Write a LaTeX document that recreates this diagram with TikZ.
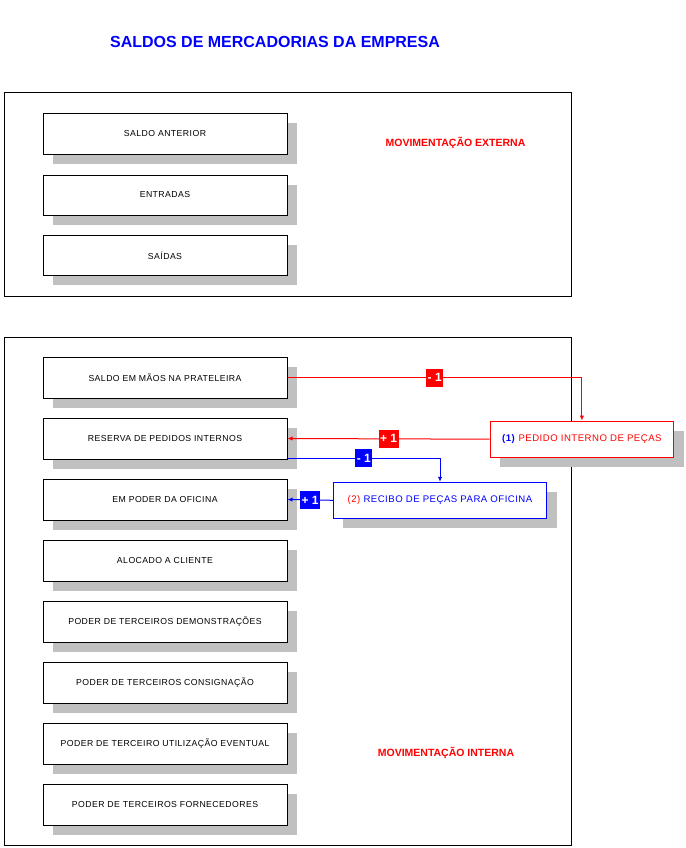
\documentclass[tikz,border=0pt]{standalone}
\usepackage{fontspec}
\setmainfont{Liberation Sans}
\newfontfamily\boxfont[LetterSpace=5]{Liberation Sans}
\usetikzlibrary{shadows,arrows.meta}
\definecolor{shgray}{HTML}{C0C0C0}
\definecolor{pured}{HTML}{FF0000}
\definecolor{publue}{HTML}{0000FF}
\begin{document}
\begin{tikzpicture}[x=1pt,y=1pt,
  frame/.style={draw=black,line width=1pt},
  shbox/.style={draw=black,line width=1pt,fill=white,inner sep=0pt,
    general shadow={fill=shgray,shadow xshift=10pt,shadow yshift=-9.5pt},
    font=\boxfont\fontsize{8.7}{10}\selectfont,text=black},
  leftbox/.style={shbox,minimum width=244pt,minimum height=40pt},
  leftboxb/.style={shbox,minimum width=244pt,minimum height=41pt},
  heading/.style={font=\bfseries\fontsize{10.5}{12}\selectfont,text=pured,inner sep=0pt},
  redline/.style={draw=pured,line width=1pt,-{Latex[length=5pt,width=4.5pt]}},
  blueline/.style={draw=publue,line width=1pt,-{Latex[length=5pt,width=4.5pt]}},
  tag/.style={font=\bfseries\fontsize{12}{12}\selectfont,text=white,inner sep=0pt,minimum height=18pt},
]
\useasboundingbox (0,0) rectangle (685,-848);
% title
\node[font=\bfseries\fontsize{16}{18}\selectfont,text=publue,inner sep=0pt] (title) at (275,-42) {SALDOS DE MERCADORIAS DA EMPRESA};
% frames
\draw[frame] (4,-93) rectangle (571,-296);
\draw[frame] (4,-337) rectangle (571,-845);
% external boxes
\node[leftbox] (ant) at (165,-134) {SALDO ANTERIOR};
\node[leftbox] (ent) at (165,-195) {ENTRADAS};
\node[leftbox] (sai) at (165,-255.5) {SAÍDAS};
\node[heading] (mext) at (455.5,-143) {MOVIMENTAÇÃO EXTERNA};
% internal boxes
\node[leftboxb] (saldo) at (165,-377.5) {SALDO EM MÃOS NA PRATELEIRA};
\node[leftboxb] (reserva) at (165,-438.5) {RESERVA DE PEDIDOS INTERNOS};
\node[leftboxb] (poder) at (165,-499.5) {EM PODER DA OFICINA};
\node[leftboxb] (aloc) at (165,-560.5) {ALOCADO A CLIENTE};
\node[leftboxb] (demo) at (165,-621.5) {PODER DE TERCEIROS DEMONSTRAÇÕES};
\node[leftboxb] (cons) at (165,-682.5) {PODER DE TERCEIROS CONSIGNAÇÃO};
\node[leftboxb] (util) at (165,-743.5) {PODER DE TERCEIRO UTILIZAÇÃO EVENTUAL};
\node[leftboxb] (forn) at (165,-804.5) {PODER DE TERCEIROS FORNECEDORES};
\node[heading] (mint) at (446,-753) {MOVIMENTAÇÃO INTERNA};
% documents
\node[shbox,draw=pured,minimum width=183.7pt,minimum height=36.3pt,font=\boxfont\fontsize{9.6}{11}\selectfont] (pedido) at (581.9,-439.2)
  {\textcolor{publue}{\textbf{(1)}} \textcolor{pured}{PEDIDO INTERNO DE PEÇAS}};
\node[shbox,draw=publue,minimum width=213.4pt,minimum height=36pt,font=\boxfont\fontsize{9.6}{11}\selectfont] (recibo) at (440,-500.3)
  {\textcolor{pured}{(2)} \textcolor{publue}{RECIBO DE PEÇAS PARA OFICINA}};
% connectors
\draw[redline] (saldo.east) -| node[pos=0.25,tag,fill=pured,minimum width=17pt] {- 1} (pedido.north);
\draw[redline] (pedido.west) -- node[pos=0.5,tag,fill=pured,minimum width=20pt] {+ 1} (reserva.east);
\draw[blueline] ([yshift=1.5pt]reserva.south east) -| node[pos=0.25,tag,fill=publue,minimum width=17pt] {- 1} (recibo.north);
\draw[blueline] (recibo.west) -- node[pos=0.5,tag,fill=publue,minimum width=20pt] {+ 1} (poder.east);
\end{tikzpicture}
\end{document}
